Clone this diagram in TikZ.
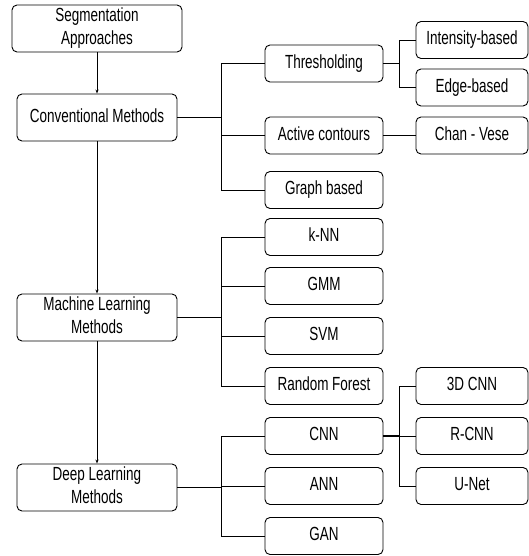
\documentclass[tikz,border=0pt]{standalone}
\usepackage{fontspec}
\setmainfont{Liberation Sans}
\usepackage{graphicx}
\usetikzlibrary{arrows.meta}
\newcommand{\nlbl}[1]{\scalebox{0.71}[1]{\begin{tabular}{@{}c@{}}#1\end{tabular}}}
\tikzset{
  box/.style={draw,line width=0.9pt,rounded corners=5pt,fill=white,inner sep=0pt,
    minimum height=37pt,font=\fontsize{19}{23}\selectfont},
  topbox/.style={box,minimum width=160pt,minimum height=47pt},
  midbox/.style={box,minimum width=118pt},
  leafbox/.style={box,minimum width=112pt},
  trunk/.style={line width=1.6pt},
  branch/.style={line width=0.9pt},
  arr/.style={line width=0.7pt,-{Stealth[length=4pt,width=3pt]}}
}
\begin{document}
\begin{tikzpicture}[x=1pt,y=-1pt]
        \useasboundingbox (0,0) rectangle (529,556);
        % left column
        \node[topbox,minimum width=170pt] (seg) at (97,28.5) {\nlbl{Segmentation\\Approaches}};
        \node[topbox] (conv) at (97,117.5) {\nlbl{Conventional Methods}};
        \node[topbox] (ml) at (97,317.5) {\nlbl{Machine Learning\\Methods}};
        \node[topbox] (dl) at (97,487.5) {\nlbl{Deep Learning\\Methods}};
        \draw[arr] (seg) -- (conv);
        \draw[arr] (conv) -- (ml);
        \draw[arr] (ml) -- (dl);
        % middle column
        \foreach \n/\y/\t in {thr/63.5/Thresholding,act/135.5/Active contours,graph/190/Graph based,
            knn/237/k-NN,gmm/286/GMM,svm/336/SVM,rf/386/Random Forest,
            cnn/436/CNN,ann/486/ANN,gan/536/GAN}
          \node[midbox] (\n) at (324,\y) {\nlbl{\t}};
        % right column
        \foreach \n/\y/\t in {int/40/Intensity-based,edge/87.5/Edge-based,chan/135.5/Chan - Vese,
            cnn3d/386/3D CNN,rcnn/436/R-CNN,unet/486/U-Net}
          \node[leafbox] (\n) at (472,\y) {\nlbl{\t}};
        % buses
        \coordinate (cbus) at (221,117.5);
        \coordinate (mbus) at (221,317.5);
        \coordinate (dbus) at (221,487.5);
        \coordinate (tbus) at (399,63.5);
        \coordinate (nbus) at (399,436);
        \draw[trunk] (conv) -- (cbus);
        \draw[trunk] (ml) -- (mbus);
        \draw[trunk] (dl) -- (dbus);
        \draw[branch] (thr) -- (tbus);
        \draw[trunk] (cnn) -- (nbus);
        \foreach \c in {thr,act,graph} \draw[branch] (cbus) |- (\c);
        \foreach \c in {knn,gmm,svm,rf} \draw[branch] (mbus) |- (\c);
        \foreach \c in {cnn,ann,gan} \draw[branch] (dbus) |- (\c);
        \foreach \c in {int,edge} \draw[branch] (tbus) |- (\c);
        \foreach \c in {cnn3d,rcnn,unet} \draw[branch] (nbus) |- (\c);
        \draw[branch] (act) -- (chan);
      \end{tikzpicture}
\end{document}
